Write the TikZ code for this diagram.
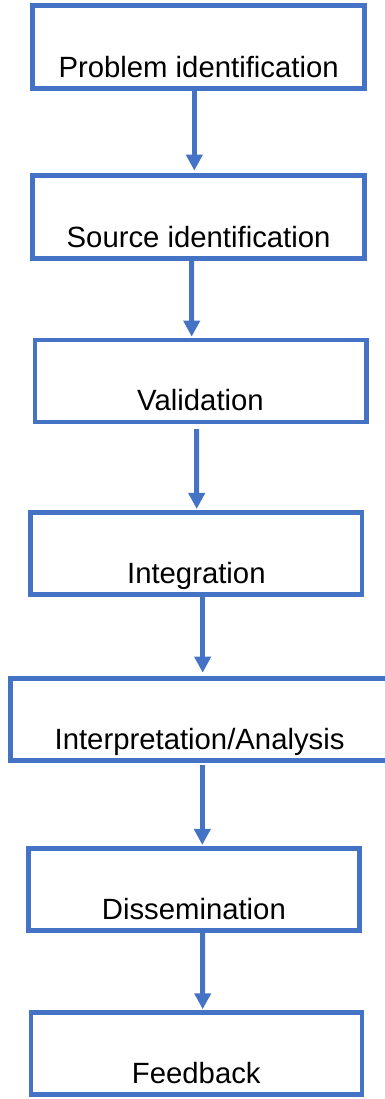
\documentclass[tikz,border=0pt]{standalone}
\usepackage{fontspec}
\setmainfont{Liberation Sans}
\usetikzlibrary{arrows.meta}
\definecolor{boxblue}{HTML}{4472C4}
\begin{document}
\begin{tikzpicture}[x=1pt,y=-1pt,
  stepbox/.style={draw=boxblue, line width=4.6pt, fill=white, rectangle, inner sep=0pt, minimum height=82pt},
  lbl/.style={anchor=base, inner sep=0pt, font=\fontsize{29.3}{34}\selectfont, text=black},
  arr/.style={draw=boxblue, line width=5pt, -{Triangle[width=16pt,length=16pt]}}]
\useasboundingbox (0,0) rectangle (385,1099);
\node[stepbox, minimum width=331.8pt, minimum height=82.5pt] (b1) at (198.6,47.05) {};
\node[stepbox, minimum width=331.8pt, minimum height=82.5pt] (b2) at (198.6,217.05) {};
\node[stepbox, minimum width=331.4pt] (b3) at (200.5,380.8) {};
\node[stepbox, minimum width=331.3pt, minimum height=81.7pt] (b4) at (196.35,553.35) {};
\node[stepbox, minimum width=378.8pt] (b5) at (199.6,719.2) {};
\node[stepbox, minimum width=331.3pt, minimum height=82.5pt] (b6) at (193.85,889.45) {};
\node[stepbox, minimum width=331pt, minimum height=81.7pt] (b7) at (196.3,1053.35) {};
\node[lbl] (t1) at ([yshift=13.5pt]b1.south) {Problem identification};
\node[lbl] (t2) at ([yshift=13.5pt]b2.south) {Source identification};
\node[lbl] (t3) at ([yshift=13.5pt]b3.south) {Validation};
\node[lbl] (t4) at ([yshift=13.5pt]b4.south) {Integration};
\node[lbl] (t5) at ([yshift=13.5pt]b5.south) {Interpretation/Analysis};
\node[lbl] (t6) at ([yshift=13.5pt]b6.south) {Dissemination};
\node[lbl] (t7) at ([yshift=13.5pt]b7.south) {Feedback};
\draw[arr] ([xshift=-4.3pt]b1.south) -- ([xshift=-4.3pt,yshift=2.9pt]b2.north);
\draw[arr] ([xshift=-6.9pt]b2.south) -- ([xshift=-8.8pt,yshift=0.85pt]b3.north);
\draw[arr] ([xshift=-3.8pt,yshift=-5pt]b3.south) -- ([xshift=0.35pt,yshift=1.25pt]b4.north);
\draw[arr] ([xshift=6.35pt]b4.south) -- ([xshift=3.1pt,yshift=3.25pt]b5.north);
\draw[arr] ([xshift=2.7pt,yshift=-2.85pt]b5.south) -- ([xshift=8.45pt,yshift=0.95pt]b6.north);
\draw[arr] ([xshift=8.85pt]b6.south) -- ([xshift=6.4pt,yshift=0.95pt]b7.north);
\end{tikzpicture}
\end{document}
